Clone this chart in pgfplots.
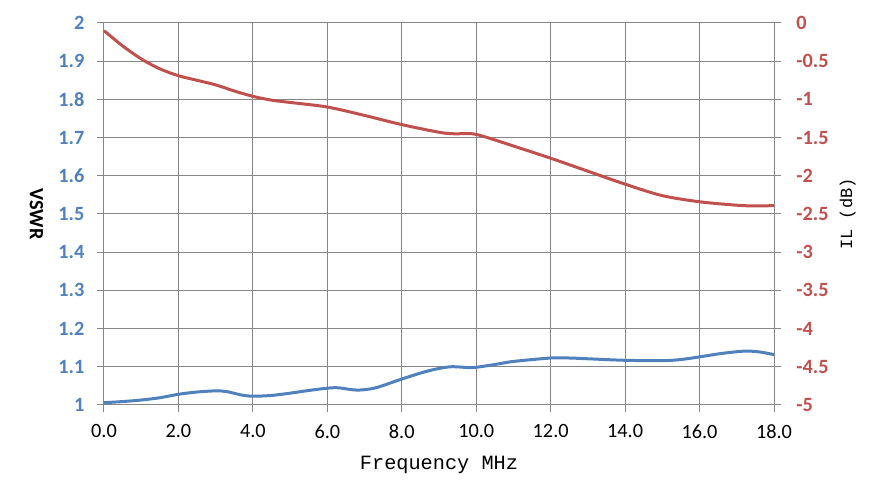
\documentclass[border=0pt]{standalone}
\usepackage{pgfplots}
\pgfplotsset{compat=1.18}
\usepackage{fontspec}
\setmainfont{Carlito}
\newfontfamily\monof{Liberation Mono}
\definecolor{vblue}{RGB}{79,129,189}
\definecolor{ilred}{RGB}{192,80,77}
\definecolor{gridgray}{RGB}{134,134,134}
\begin{document}
\begin{tikzpicture}
\useasboundingbox (-78pt,-73.5pt) rectangle (586.5pt,303.75pt);
\begin{axis}[
  at={(0pt,0pt)}, anchor=south west,
  scale only axis, width=502.5pt, height=286.5pt,
  xmin=0, xmax=18, ymin=1, ymax=2,
  axis line style={draw=gridgray, line width=0.75pt},
  axis x line*=bottom, axis y line*=left,
  xtick={0,2,...,18},
  xticklabels={0.0,2.0,4.0,6.0,8.0,10.0,12.0,14.0,16.0,18.0},
  ytick={1,1.1,1.2,1.3,1.4,1.5,1.6,1.7,1.8,1.9,2},
  yticklabels={1,1.1,1.2,1.3,1.4,1.5,1.6,1.7,1.8,1.9,2},
  tick align=outside, major tick length=5.25pt,
  tick style={draw=gridgray, line width=0.75pt},
  grid=major,
  major grid style={draw=gridgray, line width=0.75pt},
  xticklabel style={font=\fontsize{15.2}{16}\selectfont, text=black, yshift=-6pt},
  yticklabel style={font=\fontsize{15.2}{16}\selectfont\bfseries, text=vblue, xshift=-6pt},
  xlabel={\monof Frequency MHz},
  xlabel style={font=\fontsize{15.2}{17}\selectfont, at={(axis description cs:0.5,-0.157)}, anchor=center},
  ylabel={VSWR},
  ylabel style={font=\fontsize{15.2}{17}\selectfont\bfseries, at={(axis description cs:-0.1007,0.5)}, anchor=center, rotate=180},
  clip=false,
]
\addplot[vblue, line width=2.25pt, smooth, tension=0.5] coordinates {
(0,1.006) (0.5,1.009) (1,1.013) (1.5,1.019) (2,1.028) (2.5,1.034) (3,1.037) (3.3,1.035)
(3.7,1.026) (4,1.023) (4.5,1.025) (5,1.031) (5.5,1.038) (6,1.044) (6.3,1.045) (6.8,1.039)
(7.3,1.045) (8,1.068) (8.7,1.089) (9.3,1.100) (9.9,1.098) (10.5,1.106) (11,1.114)
(12,1.123) (12.5,1.123) (13,1.121) (14,1.117) (15,1.116) (15.5,1.119) (16,1.126)
(16.6,1.135) (17.2,1.141) (17.6,1.139) (18,1.132)
};
\end{axis}
\begin{axis}[
  at={(0pt,0pt)}, anchor=south west,
  scale only axis, width=502.5pt, height=286.5pt,
  xmin=0, xmax=18, ymin=-5, ymax=0,
  axis x line=none, axis y line*=right,
  axis line style={draw=gridgray, line width=0.75pt},
  ytick={-5,-4.5,-4,-3.5,-3,-2.5,-2,-1.5,-1,-0.5,0},
  yticklabels={-5,-4.5,-4,-3.5,-3,-2.5,-2,-1.5,-1,-0.5,0},
  tick align=outside, major tick length=5.25pt,
  tick style={draw=gridgray, line width=0.75pt},
  yticklabel style={font=\fontsize{15.2}{16}\selectfont\bfseries, text=ilred, xshift=8pt},
  ylabel={\monof IL (dB)},
  ylabel style={font=\fontsize{12.8}{14}\selectfont, at={(axis description cs:1.110,0.5)}, anchor=center},
  clip=false,
]
\addplot[ilred, line width=2.25pt, smooth, tension=0.5] coordinates {
(0,-0.10) (0.5,-0.30) (1,-0.47) (1.5,-0.60) (2,-0.69) (2.5,-0.75) (3,-0.81) (3.5,-0.89)
(4,-0.96) (4.5,-1.01) (5,-1.04) (6,-1.10) (7,-1.21) (8,-1.33) (9,-1.43) (9.4,-1.45)
(9.9,-1.45) (10.3,-1.50) (11,-1.61) (12,-1.77) (13,-1.94) (14,-2.11) (15,-2.26)
(16,-2.34) (17,-2.385) (17.5,-2.395) (18,-2.39)
};
\end{axis}
\end{tikzpicture}
\end{document}
